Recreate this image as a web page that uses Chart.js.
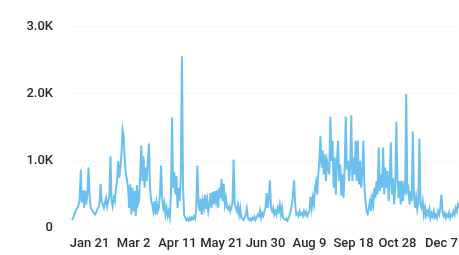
<!DOCTYPE html>
<html>
<head>
<meta charset="utf-8">
<script src="https://cdn.jsdelivr.net/npm/chart.js@4/dist/chart.umd.min.js"></script>
<style>
  html, body { margin: 0; padding: 0; background: #fff; overflow: hidden; }
</style>
</head>
<body>
<canvas id="lineChart" width="459" height="255"></canvas>
<script>
// daily values (first day: Jan 5)
const startDate = '2019-01-05';

const janToApr = [
    120, 150, 200, 230, 280, 300, 350, 420, 870, 380,
    560, 300, 560, 350, 520, 900, 480, 300, 280, 250,
    220, 200, 230, 280, 300, 350, 660, 400, 350, 300,
    380, 450, 320, 400, 480, 1070, 400, 320, 450, 400,
    600, 700, 1000, 750, 900, 1100, 1470, 1370, 1000, 800,
    720, 600, 300, 650, 200, 600, 250, 550, 180, 640,
    350, 400, 800, 1230, 700, 1070, 600, 900, 700, 1000,
    1260, 600, 400, 350, 250, 400, 200, 380, 250, 300,
    500, 930, 450, 300, 380, 200, 300, 180, 250, 160,
    500, 1650, 600, 830, 500, 780, 300, 600, 400, 800
];

const aprToJul = [
    2560, 600, 200, 150, 120, 140, 110, 150, 120, 160,
    130, 170, 140, 300, 930, 400, 250, 440, 200, 400,
    300, 500, 280, 420, 250, 350, 520, 300, 540, 350,
    550, 400, 560, 300, 600, 450, 730, 400, 660, 350,
    450, 300, 280, 320, 250, 300, 400, 1020, 350, 300,
    250, 350, 200, 300, 150, 140, 120, 160, 200, 290,
    150, 120, 140, 110, 150, 130, 170, 120, 160, 200,
    180, 260, 150, 220, 180, 250, 300, 520, 300, 450,
    710, 300, 250, 300, 200, 250, 200, 300, 250, 350,
    200, 300, 150, 130, 120, 140, 110, 150, 200, 260
];

const julToOct = [
    350, 500, 710, 350, 200, 220, 180, 250, 200, 220,
    180, 250, 200, 240, 180, 220, 250, 470, 300, 450,
    350, 600, 690, 500, 800, 1000, 1370, 900, 1160, 800,
    1100, 700, 1000, 900, 800, 1660, 1000, 1300, 600, 1050,
    500, 1000, 1300, 700, 950, 480, 800, 450, 900, 1660,
    870, 1000, 700, 900, 1680, 700, 1050, 800, 1300, 700,
    1300, 650, 1000, 600, 800, 1300, 600, 400, 250, 210,
    300, 400, 250, 450, 350, 600, 450, 700, 500, 1200,
    550, 800, 600, 1200, 500, 900, 600, 850, 400, 700,
    1280, 500, 750, 350, 600, 1580, 750, 450, 700, 350
];

const novToDec = [
    700, 400, 600, 500, 2000, 550, 600, 350, 550, 400,
    1440, 500, 300, 450, 280, 400, 1330, 350, 300, 400,
    200, 300, 180, 250, 200, 280, 150, 220, 170, 250,
    160, 200, 150, 250, 200, 300, 500, 250, 180, 220,
    150, 200, 170, 230, 150, 200, 180, 250, 200, 300,
    250, 350, 300
];

const tickLabels = ['Jan 21', 'Mar 2', 'Apr 11', 'May 21', 'Jun 30', 'Aug 9', 'Sep 18', 'Oct 28', 'Dec 7'];
const yTicks = [0, 1000, 2000, 3000];

const values = [...janToApr, ...aprToJul, ...julToOct, ...novToDec];

const monthNames = ['Jan', 'Feb', 'Mar', 'Apr', 'May', 'Jun', 'Jul', 'Aug', 'Sep', 'Oct', 'Nov', 'Dec'];
const days = [];
const d = new Date(startDate + 'T00:00:00Z');
for (let i = 0; i < values.length; i++) {
    days.push(monthNames[d.getUTCMonth()] + ' ' + d.getUTCDate());
    d.setUTCDate(d.getUTCDate() + 1);
}

const tickFont = { family: 'Roboto, "Liberation Sans", sans-serif', size: 13, weight: '500' };

const chart = new Chart(document.getElementById('lineChart'), {
    type: 'line',
    data: {
        labels: days,
        datasets: [{
            data: values,
            borderColor: '#6cc0ee',
            borderWidth: 2,
            pointRadius: 0,
            fill: false,
            tension: 0
        }]
    },
    options: {
        responsive: false,
        animation: false,
        devicePixelRatio: 1,
        layout: { padding: { top: 18, right: 0, bottom: 0, left: 0 } },
        plugins: { legend: { display: false }, tooltip: { enabled: false } },
        scales: {
            x: {
                offset: false,
                grid: { display: false, drawTicks: false },
                border: { display: false },
                afterBuildTicks: scale => {
                    scale.ticks = scale.ticks.filter(t => tickLabels.includes(days[t.value]));
                },
                afterFit: scale => {
                    // the line runs to the right edge, labels may stick out
                    scale.height = 27;
                    scale.paddingLeft = 0;
                    scale.paddingRight = 0;
                },
                ticks: {
                    autoSkip: false,
                    maxRotation: 0,
                    minRotation: 0,
                    padding: 8,
                    color: '#2b2b2b',
                    font: tickFont
                }
            },
            y: {
                min: 0,
                max: 3000,
                afterBuildTicks: scale => {
                    scale.ticks = yTicks.map(v => ({ value: v }));
                },
                afterFit: scale => { scale.width = 72; },
                grid: {
                    drawTicks: false,
                    color: 'rgba(0,0,0,0.09)'
                },
                border: { display: false, dash: [1, 3] },
                ticks: {
                    padding: 19,
                    color: '#2b2b2b',
                    font: tickFont,
                    callback: v => v === 0 ? '0' : (v / 1000).toFixed(1) + 'K'
                }
            }
        }
    }
});
</script>
</body>
</html>
